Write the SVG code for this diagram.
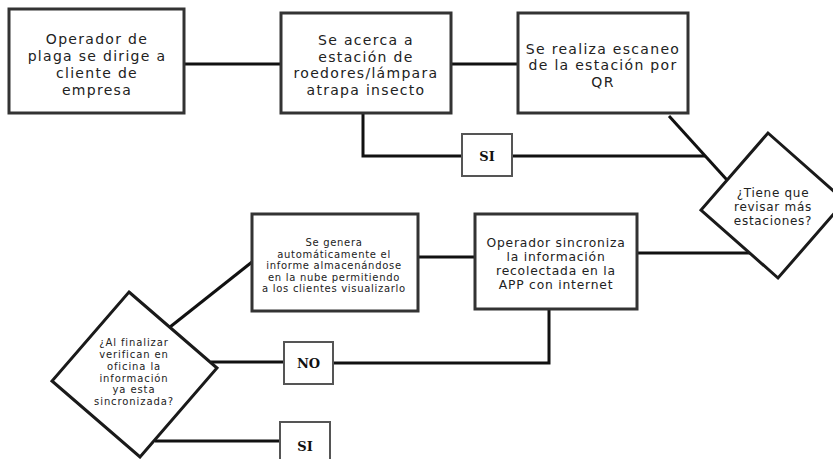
<svg xmlns="http://www.w3.org/2000/svg" width="833" height="459" viewBox="0 0 833 459">
<style>
.box{fill:#fff;stroke:#333;stroke-width:3}
.dia{fill:#fff;stroke:#1a1a1a;stroke-width:3;stroke-linejoin:miter}
.lbl{fill:#fff;stroke:#555;stroke-width:2}
.con{fill:none;stroke:#111;stroke-width:3}
text{font-family:"DejaVu Sans","Liberation Sans",sans-serif;fill:#222;text-anchor:middle}
.t16{font-size:14px;letter-spacing:1.3px}
.t14{font-size:12.3px;letter-spacing:0.8px}
.t13{font-size:12px;letter-spacing:0.7px}
.t12{font-size:10px;letter-spacing:0.7px}
.td{font-size:10px;letter-spacing:0.9px}
.tl{font-family:"DejaVu Serif","Liberation Serif",serif;font-weight:bold;font-size:13px;fill:#111}
</style>
<rect width="833" height="459" fill="#fff"/>
<g id="connectors">
<path class="con" d="M184,64 H281"/>
<path class="con" d="M451,64 H518"/>
<path class="con" d="M363,113 V156 H462"/>
<path class="con" d="M512,156 H705"/>
<path class="con" d="M669,116 L727,180"/>
<path class="con" d="M750,253 H637"/>
<path class="con" d="M475,257 H418"/>
<path class="con" d="M549,309 V363 H333"/>
<path class="con" d="M284,362 H211"/>
<path class="con" d="M170,327 L252,262"/>
<path class="con" d="M155,441 H280"/>
</g>
<g id="n1">
<rect class="box" x="9" y="9" width="175" height="104"/>
<text class="t16"><tspan x="97" y="44">Operador de</tspan><tspan x="97" y="61">plaga se dirige a</tspan><tspan x="97" y="78">cliente de</tspan><tspan x="97" y="95">empresa</tspan></text>
</g>
<g id="n2">
<rect class="box" x="281" y="13" width="170" height="100"/>
<text class="t16"><tspan x="366" y="45">Se acerca a</tspan><tspan x="366" y="61.5">estación de</tspan><tspan x="366" y="78">roedores/lámpara</tspan><tspan x="366" y="94.5">atrapa insecto</tspan></text>
</g>
<g id="n3">
<rect class="box" x="518" y="13" width="170" height="100"/>
<text class="t16"><tspan x="603" y="53.5">Se realiza escaneo</tspan><tspan x="603" y="70">de la estación por</tspan><tspan x="603" y="86.5">QR</tspan></text>
</g>
<g id="si1">
<rect class="lbl" x="462" y="134" width="50" height="42"/>
<text class="tl" x="487" y="161">SI</text>
</g>
<g id="d1">
<polygon class="dia" points="768,133 845,201 778,278 701,210"/>
<text class="t13"><tspan x="773" y="197">¿Tiene que</tspan><tspan x="773" y="211">revisar más</tspan><tspan x="773" y="225">estaciones?</tspan></text>
</g>
<g id="n4">
<rect class="box" x="475" y="214" width="162" height="95"/>
<text class="t14"><tspan x="556" y="247">Operador sincroniza</tspan><tspan x="556" y="261">la información</tspan><tspan x="556" y="275">recolectada en la</tspan><tspan x="556" y="289">APP con internet</tspan></text>
</g>
<g id="n5">
<rect class="box" x="252" y="214" width="166" height="97"/>
<text class="t12"><tspan x="334" y="246">Se genera</tspan><tspan x="334" y="257.5">automáticamente el</tspan><tspan x="334" y="269">informe almacenándose</tspan><tspan x="334" y="280.5">en la nube permitiendo</tspan><tspan x="334" y="292">a los clientes visualizarlo</tspan></text>
</g>
<g id="no">
<rect class="lbl" x="284" y="342" width="49" height="42"/>
<text class="tl" x="308.5" y="368">NO</text>
</g>
<g id="d2">
<polygon class="dia" points="129,292 217,368 140,457 52,381"/>
<text class="td"><tspan x="134" y="346">¿Al finalizar</tspan><tspan x="134" y="358">verifican en</tspan><tspan x="134" y="369.5">oficina la</tspan><tspan x="134" y="381.5">información</tspan><tspan x="134" y="393">ya esta</tspan><tspan x="134" y="405">sincronizada?</tspan></text>
</g>
<g id="si2">
<rect class="lbl" x="280" y="422" width="50" height="40"/>
<text class="tl" x="305" y="451">SI</text>
</g>
</svg>
